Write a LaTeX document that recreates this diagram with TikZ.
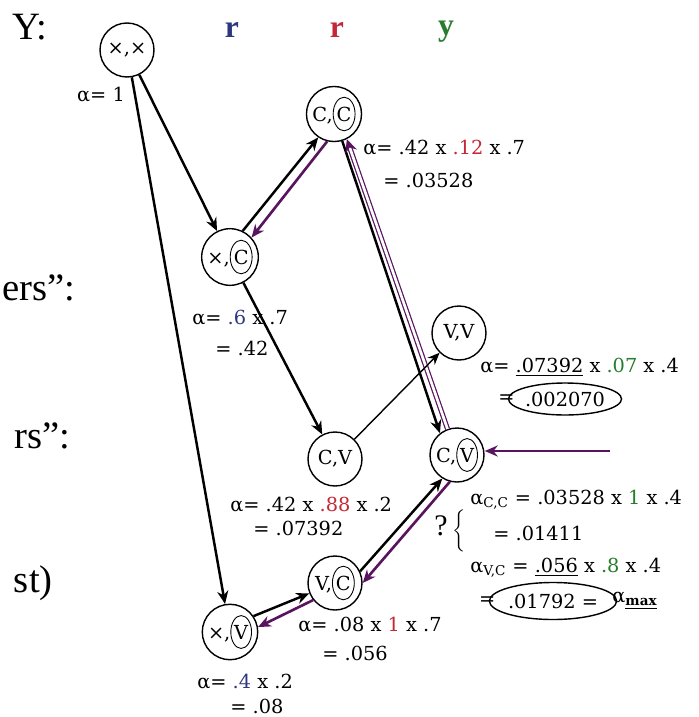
\documentclass[tikz,border=0pt]{standalone}
\usepackage{fontspec}
\setmainfont{Liberation Serif}
\newfontfamily\labfont{DejaVu Serif}
\usepackage{xcolor}
\usepackage{tikz}
\usetikzlibrary{arrows.meta,positioning,shapes.geometric}

\definecolor{rblue}{RGB}{45,55,125}
\definecolor{rred}{RGB}{195,40,55}
\definecolor{ygreen}{RGB}{40,125,45}
\definecolor{vio}{RGB}{90,20,95}

% letter with a small ring round it
\newcommand{\ring}[1]{\tikz[baseline=(ringtxt.base)]\node[draw, ellipse, line width=0.5pt, minimum size=0pt, minimum width=0pt, minimum height=0pt, inner xsep=0.2pt, inner ysep=2.6pt] (ringtxt) {#1};}

\begin{document}
\begin{tikzpicture}[
  state/.style={circle, draw, thick, minimum size=1.08cm, inner sep=0pt, font=\labfont\fontsize{11}{12}\selectfont},
  lbl/.style={inner sep=0pt, font=\labfont\fontsize{11}{13}\selectfont},
  big/.style={inner sep=0pt, font=\fontsize{22}{24}\selectfont},
  tag/.style={inner sep=0pt, font=\fontsize{18}{20}\selectfont\bfseries},
  fwd/.style={draw, -{Stealth[length=2.6mm,width=2.2mm]}, line width=1.4pt},
  lightfwd/.style={draw, -{Stealth[length=2.4mm,width=2mm]}, line width=0.8pt},
  back/.style={draw=vio, -{Stealth[length=2.6mm,width=2.2mm]}, line width=1.5pt},
  backdbl/.style={draw=vio, double=white, double distance=1.5pt, line width=0.7pt, -{Stealth[length=2.6mm,width=2.4mm]}},
  ringed/.style={draw, ellipse, thick, inner sep=0pt}
]
  \useasboundingbox (0,0) rectangle (13.96,-14.34);

  % header and left margin texts
  \node[big] (ylab) at (0.60,-0.54) {Y:};
  \node[tag, text=rblue] (t1) at (4.64,-0.60) {r};
  \node[tag, text=rred] (t2) at (6.74,-0.60) {r};
  \node[tag, text=ygreen] (t3) at (8.92,-0.64) {y};
  \node[big, anchor=base east] (m1) at (1.52,-6.00) {ers”:};
  \node[big, anchor=base east] (m2) at (1.42,-8.96) {rs”:};
  \node[big, anchor=base east] (m3) at (1.06,-11.84) {st)};

  % trellis states
  \node[state] (xx) at (2.54,-1.00) {×,×};
  \node[state] (cc) at (6.68,-2.28) {C,\ring{C}};
  \node[state] (xc) at (4.60,-5.14) {×,\ring{C}};
  \node[state] (vv) at (9.18,-6.66) {V,V};
  \node[state] (cv) at (6.70,-9.18) {C,V};
  \node[state] (cvr) at (9.14,-9.10) {C,\ring{V}};
  \node[state] (vc) at (6.70,-11.66) {V,\ring{C}};
  \node[state] (xv) at (4.60,-12.64) {×,\ring{V}};

  \draw[fwd] (xx) -- (xc);
  \draw[fwd] (xx) -- (xv);
  \draw[fwd] (xc.64) -- (cc.236);
  \draw[back] (cc.256) -- (xc.42);
  \draw[fwd] (xc) -- (cv);
  \draw[fwd] (cc.287) -- (cvr.128);
  \draw[backdbl] (cvr.110) -- (cc.297);
  \draw[lightfwd] (cv) -- (vv);
  \draw[fwd] (xv.34) -- (vc.202);
  \draw[back] (vc.218) -- (xv.10);
  \draw[fwd] (vc.25) -- (cvr.238);
  \draw[back] (cvr.255) -- (vc.0);
  \coordinate (pin) at (12.20,-9.02);
  \draw[back] (pin) -- (pin -| cvr.east);

  % alpha values
  \node[lbl] (a1) at (2.02,-1.90) {α= 1};
  \node[lbl, anchor=west] (a2) at (7.26,-2.96) {α= .42 x \textcolor{rred}{.12} x .7};
  \node[lbl, anchor=west] (a2b) at (7.66,-3.60) {= .03528};
  \node[lbl, anchor=west] (a3) at (3.84,-6.36) {α= \textcolor{rblue}{.6} x .7};
  \node[lbl, anchor=west] (a3b) at (4.30,-6.96) {= .42};
  \node[lbl, anchor=west] (a4) at (9.60,-7.34) {α= \underline{.07392} x \textcolor{ygreen}{.07} x .4};
  \node[lbl, ringed, minimum width=2.08cm, minimum height=0.64cm] (r1) at (11.30,-7.98) {.002070};
  \node[lbl, left=-4pt of r1] (e1) {=};
  \node[lbl, anchor=west] (a5) at (4.60,-10.10) {α= .42 x \textcolor{rred}{.88} x .2};
  \node[lbl, anchor=west] (a5b) at (5.06,-10.56) {= .07392};
  \node[lbl, anchor=west] (a6) at (9.40,-10.00) {α\textsubscript{C,C} = .03528 x \textcolor{ygreen}{1} x .4};
  \node[inner sep=0pt] (q) at (9.00,-10.62) {\fontsize{17}{18}\selectfont ?\,{\fontsize{10}{12}\selectfont$\bigg\{$}};
  \node[lbl, anchor=west] (a6b) at (9.86,-10.66) {= .01411};
  \node[lbl, anchor=west] (a7) at (9.40,-11.36) {α\textsubscript{V,C} = \underline{.056} x \textcolor{ygreen}{.8} x .4};
  \node[lbl, ringed, minimum width=2.14cm, minimum height=0.74cm] (r2) at (11.06,-12.02) {.01792 =};
  \node[lbl, left=-4pt of r2] (e2) {=};
  \node[lbl, right=-3pt of r2] (amax) {α\textsubscript{\textbf{\underline{max}}}};
  \node[lbl, anchor=west] (a8) at (5.96,-12.50) {α= .08 x \textcolor{rred}{1} x .7};
  \node[lbl, anchor=west] (a8b) at (6.44,-13.06) {= .056};
  \node[lbl, anchor=west] (a9) at (3.94,-13.64) {α= \textcolor{rblue}{.4} x .2};
  \node[lbl, anchor=west] (a9b) at (4.60,-14.12) {= .08};
\end{tikzpicture}
\end{document}
